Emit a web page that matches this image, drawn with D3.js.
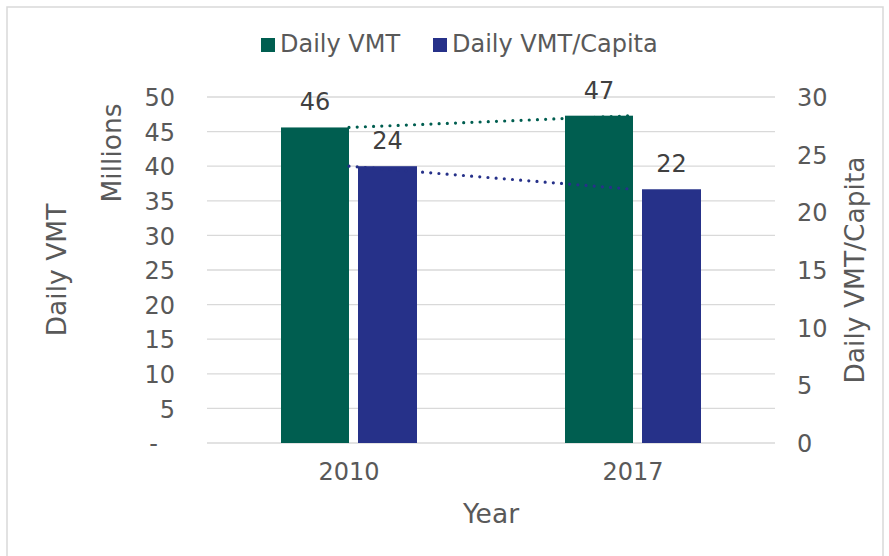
<!DOCTYPE html>
<html><head><meta charset="utf-8">
<script src="https://cdn.jsdelivr.net/npm/d3@7"></script>
<style>
html,body{margin:0;padding:0;background:#fff;}
svg{display:block;font-family:"DejaVu Sans",Verdana,sans-serif;}
</style></head>
<body><svg id="c" width="889" height="556"></svg>
<script>
const years = ["2010", "2017"];
const dailyVMT = [45.6, 47.3];          // millions
const dailyVMTCapita = [24.0, 22.0];
const dailyVMTLabels = ["46", "47"];
const capitaLabels = ["24", "22"];
const leftTicks = [0, 5, 10, 15, 20, 25, 30, 35, 40, 45, 50];
const rightTicks = [0, 5, 10, 15, 20, 25, 30];
const seriesNames = ["Daily VMT", "Daily VMT/Capita"];
const colors = ["#005E50", "#263189"];

(function () {
const svg = d3.select("#c");
const textCol = "#595959";
const gridCol = "#D9D9D9";
const FONT = '"DejaVu Sans",Verdana,sans-serif';

// chart border
svg.append("rect").attr("x", 7).attr("y", 7).attr("width", 876).attr("height", 600)
  .attr("fill", "none").attr("stroke", gridCol).attr("stroke-width", 1.5);

const pL = 207, pR = 775, pT = 97, pB = 443;
const x = d3.scaleBand().domain(years).range([pL, pR]).padding(0);
const yL = d3.scaleLinear().domain([0, 50]).range([pB, pT]);
const yR = d3.scaleLinear().domain([0, 30]).range([pB, pT]);
const bw = x.bandwidth();
const cx = d => x(d) + bw / 2;

// gridlines
svg.append("g").selectAll("line").data(leftTicks).join("line")
  .attr("x1", pL).attr("x2", pR)
  .attr("y1", d => yL(d)).attr("y2", d => yL(d))
  .attr("stroke", gridCol).attr("stroke-width", d => d === 0 ? 1.6 : 1.3);

// left axis
const axL = d3.axisLeft(yL).tickValues(leftTicks).tickSize(0).tickPadding(0)
  .tickFormat(d => d === 0 ? "-" : d3.format("d")(d));
const gL = svg.append("g").attr("transform", "translate(175,0)").call(axL);
gL.select(".domain").remove();
gL.selectAll("text").attr("font-size", 24).attr("fill", textCol).attr("font-family", FONT)
  .attr("dx", d => d === 0 ? -17 : 0).attr("dy", "0.36em");

// right axis
const axR = d3.axisRight(yR).tickValues(rightTicks).tickSize(0).tickPadding(0);
const gR = svg.append("g").attr("transform", "translate(797,0)").call(axR);
gR.select(".domain").remove();
gR.selectAll("text").attr("font-size", 24).attr("fill", textCol).attr("font-family", FONT)
  .attr("dy", "0.36em");

// x axis labels
const axX = d3.axisBottom(x).tickSize(0).tickPadding(0);
const gX = svg.append("g").attr("transform", `translate(0,${pB})`).call(axX);
gX.select(".domain").remove();
gX.selectAll("text").attr("font-size", 24).attr("fill", textCol).attr("font-family", FONT)
  .attr("dy", "1.55em");

// bars
const gW = 68 / 284, bGap = 9 / 284, bW = 59 / 284;
svg.append("g").selectAll("rect").data(years).join("rect")
  .attr("x", d => cx(d) - gW * bw).attr("width", gW * bw)
  .attr("y", (d, i) => yL(dailyVMT[i])).attr("height", (d, i) => yL(0) - yL(dailyVMT[i]))
  .attr("fill", colors[0]);
svg.append("g").selectAll("rect").data(years).join("rect")
  .attr("x", d => cx(d) + bGap * bw).attr("width", bW * bw)
  .attr("y", (d, i) => yR(dailyVMTCapita[i])).attr("height", (d, i) => yR(0) - yR(dailyVMTCapita[i]))
  .attr("fill", colors[1]);

// trendlines
const lineL = d3.line().x((d, i) => cx(years[i])).y(d => yL(d));
const lineR = d3.line().x((d, i) => cx(years[i])).y(d => yR(d));
svg.append("path").attr("d", lineL(dailyVMT)).attr("fill", "none").attr("stroke", colors[0])
  .attr("stroke-width", 3.2).attr("stroke-linecap", "round").attr("stroke-dasharray", "0 8.2");
svg.append("path").attr("d", lineR(dailyVMTCapita)).attr("fill", "none").attr("stroke", colors[1])
  .attr("stroke-width", 3.2).attr("stroke-linecap", "round").attr("stroke-dasharray", "0 8.2");

// data labels
const lblCol = "#404040";
svg.append("g").selectAll("text").data(years).join("text")
  .attr("x", d => cx(d) - gW * bw / 2).attr("y", (d, i) => yL(dailyVMT[i]) - 17)
  .attr("text-anchor", "middle").attr("font-size", 24).attr("fill", lblCol)
  .text((d, i) => dailyVMTLabels[i]);
svg.append("g").selectAll("text").data(years).join("text")
  .attr("x", d => cx(d) + bGap * bw + bW * bw / 2).attr("y", (d, i) => yR(dailyVMTCapita[i]) - 17)
  .attr("text-anchor", "middle").attr("font-size", 24).attr("fill", lblCol)
  .text((d, i) => capitaLabels[i]);

// axis titles
const tSize = 26.5;
svg.append("text").attr("transform", `translate(66,${(pT + pB) / 2}) rotate(-90)`)
  .attr("text-anchor", "middle").attr("font-size", tSize).attr("fill", textCol).text("Daily VMT");
svg.append("text").attr("transform", "translate(121,153) rotate(-90)")
  .attr("text-anchor", "middle").attr("font-size", tSize).attr("fill", textCol).text("Millions");
svg.append("text").attr("transform", `translate(864,${(pT + pB) / 2}) rotate(-90)`)
  .attr("text-anchor", "middle").attr("font-size", tSize).attr("fill", textCol).text("Daily VMT/Capita");
svg.append("text").attr("x", (pL + pR) / 2).attr("y", 523)
  .attr("text-anchor", "middle").attr("font-size", tSize).attr("fill", textCol).text("Year");

// legend
const legX = [261, 433], legY = 38;
const lg = svg.append("g");
seriesNames.forEach((n, i) => {
  lg.append("rect").attr("x", legX[i]).attr("y", legY).attr("width", 14).attr("height", 14).attr("fill", colors[i]);
  lg.append("text").attr("x", legX[i] + 19).attr("y", legY + 14).attr("font-size", 24)
    .attr("fill", textCol).text(n);
});
})();
</script></body></html>
